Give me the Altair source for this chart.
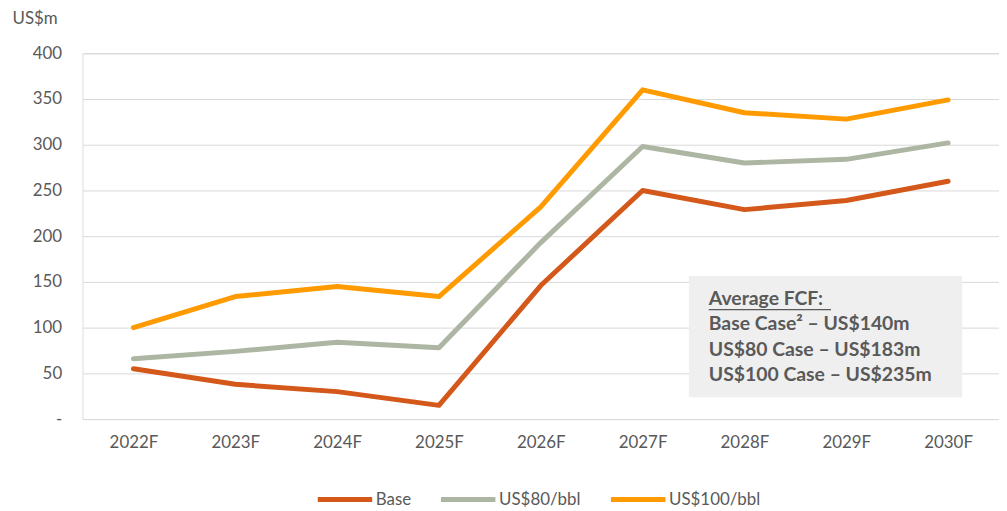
import altair as alt
import pandas as pd

years = ["2022F", "2023F", "2024F", "2025F", "2026F", "2027F", "2028F", "2029F", "2030F"]
base = [55, 38, 30, 15, 146, 250, 229, 239, 260]
us80 = [66, 74, 84, 78, 193, 298, 280, 284, 302]
us100 = [100, 134, 145, 134, 232, 360, 335, 328, 349]
series_names = ["Base", "US$80/bbl", "US$100/bbl"]
series_colors = ["#D4581A", "#ADB5A3", "#FF9B00"]
note_lines = ["Average FCF:", "Base Case\u00b2 \u2013 US$140m", "US$80 Case \u2013 US$183m", "US$100 Case \u2013 US$235m"]

rows = []
for name, vals in zip(series_names, [base, us80, us100]):
    for y, v in zip(years, vals):
        rows.append({"year": y, "value": v, "series": name})
df = pd.DataFrame(rows)

FONT = "Lato"
FS = 17
W, H = 922, 368

lines = alt.Chart(df).mark_line(strokeWidth=5, strokeCap="round", strokeJoin="round").encode(
    x=alt.X("year:N", sort=years, scale=alt.Scale(paddingInner=0, paddingOuter=0.0),
            axis=alt.Axis(title=None, labelAngle=0, labelColor="#595959", labelFontSize=FS,
                          labelFont=FONT, ticks=False, domain=False, labelPadding=16, grid=False)),
    y=alt.Y("value:Q", scale=alt.Scale(domain=[0, 400], nice=False),
            axis=alt.Axis(values=[0, 50, 100, 150, 200, 250, 300, 350, 400],
                          labelExpr="datum.value == 0 ? '-' : datum.label",
                          labelColor="#595959", labelFontSize=FS, labelFont=FONT,
                          ticks=False, domain=False, gridColor="#D9D9D9", gridWidth=1,
                          labelPadding=21,
                          title="US$m", titleAngle=0, titleAlign="left", titleBaseline="middle",
                          titleX=-71, titleY=-35, titleFont=FONT, titleFontSize=FS,
                          titleFontWeight="normal", titleColor="#595959")),
    color=alt.Color("series:N", sort=series_names,
                    scale=alt.Scale(domain=series_names, range=series_colors),
                    legend=alt.Legend(title=None, orient="none", direction="horizontal",
                                      legendX=234, legendY=419,
                                      symbolType="stroke", symbolSize=3000, symbolStrokeWidth=5,
                                      labelFont=FONT, labelFontSize=FS, labelColor="#595959",
                                      columnPadding=19, labelOffset=1)),
)

box = alt.Chart(pd.DataFrame({"a": [0]})).mark_rect(color="#EFEFEF").encode(
    x=alt.value(610), x2=alt.value(885), y=alt.value(224), y2=alt.value(346)
)

note_df = pd.DataFrame({"t": note_lines, "i": list(range(len(note_lines)))})
note = alt.Chart(note_df).mark_text(align="left", baseline="middle", font=FONT, fontSize=19.5,
                                    fontWeight="bold", color="#595959").encode(
    x=alt.value(630),
    y=alt.Y("i:Q", scale=alt.Scale(domain=[0, 3], range=[247, 324]), axis=None),
    text="t:N",
)

underline = alt.Chart(pd.DataFrame({"a": [0]})).mark_rule(color="#595959", strokeWidth=1.3).encode(
    x=alt.value(630), x2=alt.value(753), y=alt.value(258)
)

chart = alt.layer(box, lines, note, underline).resolve_scale(y="independent").properties(
    width=W, height=H,
    autosize=alt.AutoSizeParams(type="none"),
    padding={"left": 75, "top": 44, "right": 0, "bottom": 100},
).configure_view(stroke=None).configure(background="white")

chart.save("out.html", embed_options={"renderer": "svg", "actions": False})
